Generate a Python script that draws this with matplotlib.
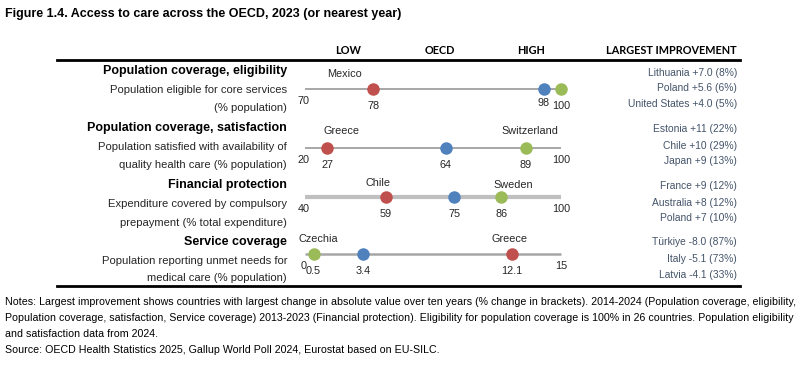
import matplotlib
matplotlib.use("Agg")
import matplotlib.pyplot as plt
from matplotlib import font_manager

# =========================
# Data
# =========================
row_titles = ["Population coverage, eligibility",
              "Population coverage, satisfaction",
              "Financial protection",
              "Service coverage"]
row_subtitles = [["Population eligible for core services", "(% population)"],
                 ["Population satisfied with availability of", "quality health care (% population)"],
                 ["Expenditure covered by compulsory", "prepayment (% total expenditure)"],
                 ["Population reporting unmet needs for", "medical care (% population)"]]

axis_min = [70, 20, 40, 0]
axis_max = [100, 100, 100, 15]
low_vals = [78, 27, 59, 12.1]
oecd_vals = [98, 64, 75, 3.4]
high_vals = [100, 89, 86, 0.5]
low_countries = ["Mexico", "Greece", "Chile", "Greece"]
high_countries = ["", "Switzerland", "Sweden", "Czechia"]

improvements = [["Lithuania +7.0 (8%)", "Poland +5.6 (6%)", "United States +4.0 (5%)"],
                ["Estonia +11 (22%)", "Chile +10 (29%)", "Japan +9 (13%)"],
                ["France +9 (12%)", "Australia +8 (12%)", "Poland +7 (10%)"],
                ["Türkiye -8.0 (87%)", "Italy -5.1 (73%)", "Latvia -4.1 (33%)"]]

title = "Figure 1.4. Access to care across the OECD, 2023 (or nearest year)"
notes = ["Notes: Largest improvement shows countries with largest change in absolute value over ten years (% change in brackets). 2014-2024 (Population coverage, eligibility,",
         "Population coverage, satisfaction, Service coverage) 2013-2023 (Financial protection). Eligibility for population coverage is 100% in 26 countries. Population eligibility",
         "and satisfaction data from 2024.",
         "Source: OECD Health Statistics 2025, Gallup World Poll 2024, Eurostat based on EU-SILC."]

# =========================
# Layout (pixels in a 800x367 canvas)
# =========================
W, H = 800, 367
RED, BLUE, GREEN = "#C0504D", "#4F81BD", "#9BBB59"
TXT = "#262626"
IMP_COLOR = "#44546A"

installed = {f.name for f in font_manager.fontManager.ttflist}
NARROW = "Liberation Sans Narrow" if "Liberation Sans Narrow" in installed else "Liberation Sans"
narrow_scale = 1.0 if NARROW == "Liberation Sans Narrow" else 0.82
HEAD_FONT = "Lato" if "Lato" in installed else "DejaVu Sans"

line_y = [89, 148, 197, 254]
title_y = [71, 128, 185, 242]
sub_y = [[90, 108], [147, 165], [204, 223], [261, 278]]
imp_y = [[73, 88, 104], [129, 146, 161], [186, 203, 218], [242, 259, 275]]
line_style = [(1.3, "#A0A0A0"), (1.3, "#A0A0A0"), (3.0, "#BFBFBF"), (1.8, "#A6A6A6")]
# label offsets in pixels (dx, dy), dy positive = upward
low_lab_off = [(-29, 15), (14, 17), (-8, 14), (-2, 15)]
high_lab_off = [(0, 0), (4, 17), (12, 12), (5, 15)]
X0, X1 = 305, 561


def fx(x):
    return x / W


def fy(y):
    return 1 - y / H


fig = plt.figure(figsize=(8, 3.67), dpi=100)

# title
fig.text(fx(5), fy(14), title, fontsize=11 * narrow_scale, fontweight="bold",
         family=NARROW, va="center", ha="left", color="black")

# header row
for lab, x in [("LOW", 348), ("OECD", 440), ("HIGH", 531)]:
    fig.text(fx(x), fy(51), lab, fontsize=7.8, fontweight="bold", family=HEAD_FONT,
             ha="center", va="center")
fig.text(fx(737), fy(51), "LARGEST IMPROVEMENT", fontsize=7.8, fontweight="bold",
         family=HEAD_FONT, ha="right", va="center")

# rules
fig.add_artist(plt.Line2D([fx(57), fx(740)], [fy(60), fy(60)], color="black", lw=2.0))
fig.add_artist(plt.Line2D([fx(57), fx(740)], [fy(286), fy(286)], color="black", lw=2.0))

for i in range(4):
    # left text
    fig.text(fx(287), fy(title_y[i]), row_titles[i], fontsize=9, fontweight="bold",
             family="Liberation Sans", ha="right", va="center", color="black")
    for j, s in enumerate(row_subtitles[i]):
        fig.text(fx(287), fy(sub_y[i][j]), s, fontsize=8.1, family="Liberation Sans",
                 ha="right", va="center", color=TXT)

    # dot row
    ax = fig.add_axes([fx(X0), fy(line_y[i] + 20), (X1 - X0) / W, 40 / H])
    ax.set_xlim(axis_min[i], axis_max[i])
    ax.set_ylim(-1, 1)
    ax.axis("off")
    lw, lc = line_style[i]
    ax.plot([axis_min[i], axis_max[i]], [0, 0], color=lc, lw=lw, solid_capstyle="butt",
            zorder=1, clip_on=False)
    for v, c in [(low_vals[i], RED), (oecd_vals[i], BLUE), (high_vals[i], GREEN)]:
        ax.plot(v, 0, "o", color=c, ms=9, mec="none", zorder=3, clip_on=False)

    kw = dict(xycoords="data", textcoords="offset pixels", ha="center", va="center",
              fontsize=7.8, family="Liberation Sans", color=TXT, annotation_clip=False)
    # endpoint labels
    ax.annotate(f"{axis_min[i]}", (axis_min[i], 0), xytext=(-1, -12), **kw)
    if axis_max[i] != high_vals[i]:
        ax.annotate(f"{axis_max[i]}", (axis_max[i], 0), xytext=(0, -12), **kw)
    # value labels
    for v in (low_vals[i], oecd_vals[i], high_vals[i]):
        dy = -14 if (i == 0 and v == oecd_vals[i]) else -17
        ax.annotate(f"{v:g}", (v, 0), xytext=(0, dy), **kw)
    # country labels
    ax.annotate(low_countries[i], (low_vals[i], 0),
                xytext=(low_lab_off[i][0], low_lab_off[i][1]), **kw)
    if high_countries[i]:
        ax.annotate(high_countries[i], (high_vals[i], 0),
                    xytext=(high_lab_off[i][0], high_lab_off[i][1]), **kw)

    # largest improvement column
    for j, s in enumerate(improvements[i]):
        fig.text(fx(737), fy(imp_y[i][j]), s, fontsize=9.0 * narrow_scale, family=NARROW,
                 ha="right", va="center", color=IMP_COLOR)

# notes
notes_y = [302, 318, 334, 350]
for s, y in zip(notes, notes_y):
    fig.text(fx(5), fy(y), s, fontsize=9.3 * narrow_scale, family=NARROW,
             ha="left", va="center", color="black")

fig.savefig("out.png", dpi=100)
